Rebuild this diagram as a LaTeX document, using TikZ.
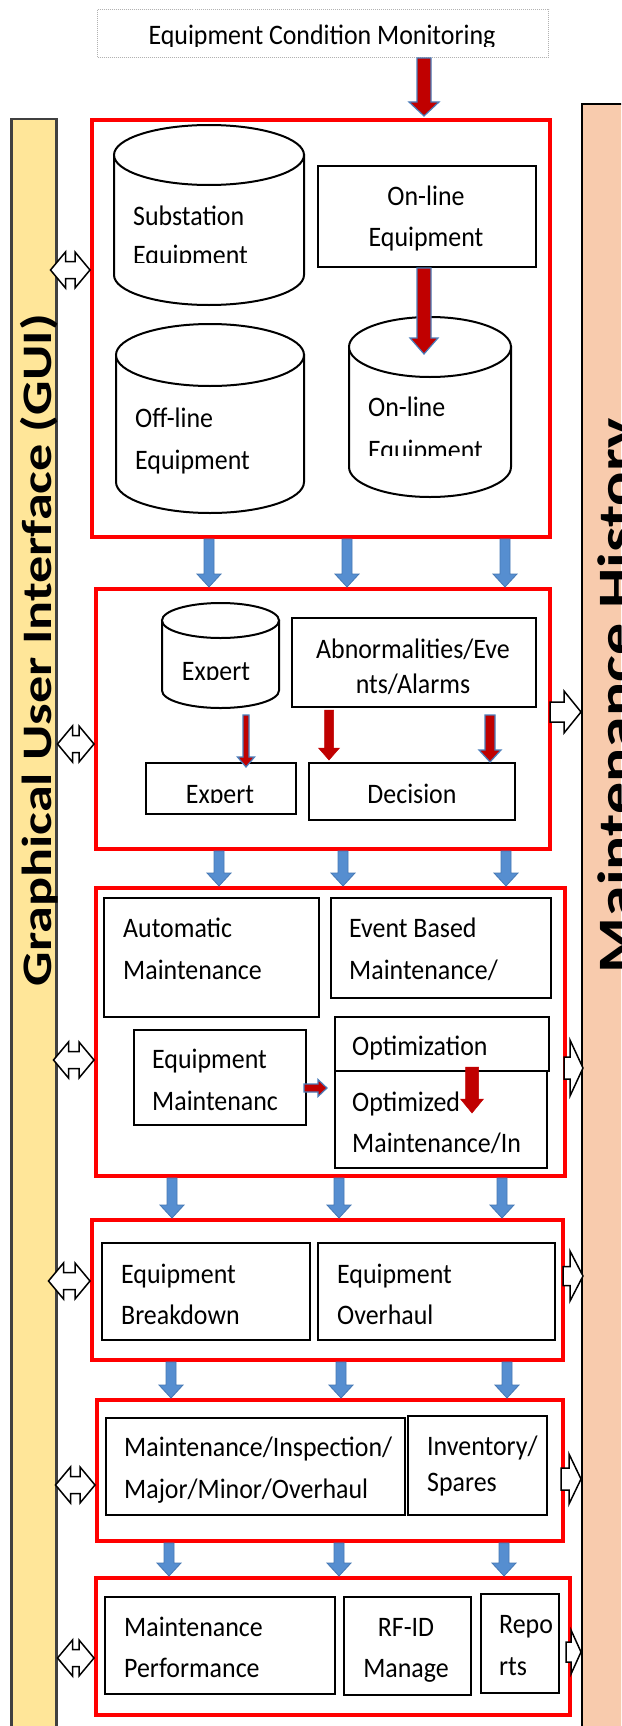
\documentclass[tikz,border=0pt]{standalone}
\usepackage{fontspec}
\setmainfont{Carlito}
\usetikzlibrary{calc}

\definecolor{guiyellow}{RGB}{255,230,153}
\definecolor{histpeach}{RGB}{248,203,173}
\definecolor{arrowred}{RGB}{192,0,0}
\definecolor{arrowedge}{RGB}{74,126,187}
\definecolor{flowblue}{RGB}{86,142,208}
\definecolor{flowedge}{RGB}{70,120,180}
\definecolor{bargray}{RGB}{64,64,64}

% slightly tall lettering
\newcommand\vs[1]{\scalebox{1}[1.09]{#1}}
% rectangle node: style, name, x0, y0, x1, y1 (y measured downwards)
\newcommand\mkpanel[6]{\node[#1, minimum width={(#5-#3)*1pt}, minimum height={(#6-#4)*1pt}] (#2) at (#3,-#4) {};}
% storage drum: x0, x1, top, bottom, cap radius
\newcommand\mkdrum[5]{%
  \filldraw[drumline] (#1,-#3-#5) -- (#1,-#4+#5) arc[start angle=180, end angle=360, x radius={(#2-#1)/2}, y radius=#5] -- (#2,-#3-#5) -- cycle;
  \filldraw[drumline] ({(#1+#2)/2},-#3-#5) ellipse[x radius={(#2-#1)/2}, y radius=#5];}
% block arrow downwards: [style]{start}{tip}{shaft half}{head half}{head length}
\newcommand\dnblk[6][]{\path[#1] let \p1=#2, \p2=#3 in
  (\x1-#4,\y1) -- (\x1+#4,\y1) -- (\x1+#4,\y2+#6) -- (\x1+#5,\y2+#6) -- (\x1,\y2)
  -- (\x1-#5,\y2+#6) -- (\x1-#4,\y2+#6) -- cycle;}
% block arrow to the right
\newcommand\rtblk[6][]{\path[#1] let \p1=#2, \p2=#3 in
  (\x1,\y1+#4) -- (\x2-#6,\y1+#4) -- (\x2-#6,\y1+#5) -- (\x2,\y1) -- (\x2-#6,\y1-#5)
  -- (\x2-#6,\y1-#4) -- (\x1,\y1-#4) -- cycle;}
% block arrow pointing both ways
\newcommand\lrblk[6][]{\path[#1] let \p1=#2, \p2=#3 in
  (\x1,\y1) -- (\x1+#6,\y1+#5) -- (\x1+#6,\y1+#4) -- (\x2-#6,\y1+#4) -- (\x2-#6,\y1+#5)
  -- (\x2,\y1) -- (\x2-#6,\y1-#5) -- (\x2-#6,\y1-#4) -- (\x1+#6,\y1-#4) -- (\x1+#6,\y1-#5) -- cycle;}

\begin{document}
\begin{tikzpicture}[x=1pt,y=1pt,
  redbox/.style={draw=red, line width=4pt, anchor=north west, inner sep=0pt},
  blk/.style={draw=black, line width=2pt, fill=white, anchor=north west, inner sep=0pt},
  drumline/.style={draw=black, line width=2pt, fill=white},
  lt/.style={anchor=base west, inner sep=0pt, font=\fontsize{25.9}{31}\selectfont},
  ct/.style={anchor=base, inner sep=0pt, font=\fontsize{25.9}{31}\selectfont},
  redarr/.style={fill=arrowred, draw=arrowedge, line width=1.2pt},
  redsolid/.style={fill=arrowred, draw=arrowred, line width=0.5pt},
  bluearr/.style={fill=flowblue, draw=flowedge, line width=0.8pt},
  hollow/.style={fill=white, draw=black, line width=1.5pt}]

\useasboundingbox (0,0) rectangle (621,-1726);
\clip (0,0) rectangle (621,-1726);
\fill[white] (0,0) rectangle (621,-1726);

% side bars
\node[draw=bargray, line width=2.5pt, fill=guiyellow, anchor=north west, inner sep=0pt,
  minimum width=45pt, minimum height=1660pt] (gui) at (10,-118) {};
\node[draw=black, line width=2pt, fill=histpeach, anchor=north west, inner sep=0pt,
  minimum width=80pt, minimum height=1680pt] (mh) at (581,-103) {};
\node[rotate=90, anchor=base, inner sep=0pt] (guitext) at (51,-650)
  {\scalebox{1.29}[1]{\fontsize{42}{42}\selectfont\bfseries Graphical User Interface (GUI)}};
\node[rotate=90, anchor=base, inner sep=0pt] (mhtext) at (633,-696)
  {\scalebox{1.255}[1]{\fontsize{51}{51}\selectfont\bfseries Maintenance History}};

% top source box
\node[draw=gray!60, dash pattern=on 1pt off 1pt, line width=1pt, anchor=north west, inner sep=0pt,
  minimum width=451pt, minimum height=48pt] (topbox) at (97,-9) {};
\begin{scope}
  \clip (97,-9) rectangle (548,-47);
  \node[ct] (toptext) at (322,-45) {\vs{Equipment Condition Monitoring}};
\end{scope}

% red stage frames
\mkpanel{redbox}{b1}{90}{118}{548}{535}
\mkpanel{redbox}{b2}{94}{587}{548}{847}
\mkpanel{redbox}{b3}{94}{886}{563}{1174}
\mkpanel{redbox}{b4}{90}{1218}{561}{1358}
\mkpanel{redbox}{b5}{95}{1398}{561}{1539}
\mkpanel{redbox}{b6}{94}{1576}{568}{1713}

% links to the GUI bar
\lrblk[hollow]{($(gui.east |- 0,-270)+(-7,0)$)}{(b1.west |- 0,-270)}{8.5pt}{18pt}{15pt}
\lrblk[hollow]{(gui.east |- 0,-744)}{(b2.west |- 0,-744)}{8.5pt}{18pt}{15pt}
\lrblk[hollow]{($(gui.east |- 0,-1060)+(-4,0)$)}{(b3.west |- 0,-1060)}{8.5pt}{18pt}{15pt}
\lrblk[hollow]{($(gui.east |- 0,-1281)+(-9,0)$)}{(b4.west |- 0,-1281)}{8.5pt}{18pt}{15pt}
\lrblk[hollow]{($(gui.east |- 0,-1485)+(-2,0)$)}{(b5.west |- 0,-1485)}{8.5pt}{18pt}{15pt}
\lrblk[hollow]{(gui.east |- 0,-1658)}{(b6.west |- 0,-1658)}{8.5pt}{18pt}{15pt}

% links to the maintenance history bar
\rtblk[hollow]{($(b2.east |- 0,-712)+(-2,0)$)}{(mh.west |- 0,-712)}{10pt}{21pt}{17pt}
\rtblk[hollow]{($(b3.east |- 0,-1068)+(-3,0)$)}{($(mh.west |- 0,-1068)+(2,0)$)}{11pt}{28pt}{13pt}
\rtblk[hollow]{($(b4.east |- 0,-1276)+(-2,0)$)}{($(mh.west |- 0,-1276)+(2,0)$)}{9.5pt}{25pt}{13pt}
\rtblk[hollow]{($(b5.east |- 0,-1479)+(-4,0)$)}{(mh.west |- 0,-1479)}{11pt}{25pt}{12pt}
\rtblk[hollow]{($(b6.east |- 0,-1652)+(-6,0)$)}{(mh.west |- 0,-1652)}{10pt}{22pt}{10pt}

% stage 1: equipment data
\mkdrum{114}{304}{125}{305}{30}
\mkdrum{116}{304}{324}{513}{31}
\mkdrum{349}{511}{317}{497}{30}
\mkpanel{blk}{onl}{317}{165}{535}{266}
\node[lt] (subA) at (133,-225) {\vs{Substation}};
\begin{scope}
  \clip (120,-235) rectangle (300,-262);
  \node[lt] (subB) at (133,-264) {\vs{Equipment}};
\end{scope}
\node[ct] (onlA) at (426,-205) {\vs{On-line}};
\node[ct] (onlB) at (426,-246) {\vs{Equipment}};
\node[lt] (offA) at (135,-427) {\vs{Off-line}};
\node[lt] (offB) at (135,-469) {\vs{Equipment}};
\node[lt] (ondA) at (368,-416) {\vs{On-line}};
\begin{scope}
  \clip (355,-430) rectangle (505,-455);
  \node[lt] (ondB) at (368,-459) {\vs{Equipment}};
\end{scope}
\coordinate (ondtip) at (424,-354);

% stage 2: expert system and decisions
\mkdrum{162}{279}{603}{708}{17.5}
\coordinate (expbot) at (246,-715);
\mkpanel{blk}{abn}{291}{617}{535}{706}
\mkpanel{blk}{exr}{145}{762}{295}{813}
\mkpanel{blk}{dec}{308}{762}{514}{819}
\begin{scope}
  \clip (165,-640) rectangle (275,-679);
  \node[ct] (expA) at (216,-680) {\vs{Expert}};
\end{scope}
\node[ct] (abnA) at (413,-658) {\vs{Abnormalities/Eve}};
\node[ct] (abnB) at (413,-693) {\vs{nts/Alarms}};
\begin{scope}
  \clip (147,-764) rectangle (293,-802);
  \node[ct] (exrA) at (220,-803) {\vs{Expert}};
\end{scope}
\node[ct] (decA) at (412,-803) {\vs{Decision}};

% stage 3: maintenance strategies
\mkpanel{blk}{aut}{103}{897}{318}{1016}
\mkpanel{blk}{evt}{330}{897}{550}{997}
\mkpanel{blk}{eqm}{133}{1029}{305}{1124}
\mkpanel{blk}{opt}{334}{1016}{548}{1070}
\mkpanel{blk}{opd}{334}{1070}{546}{1167}
\node[lt] (autA) at (123,-937) {\vs{Automatic}};
\node[lt] (autB) at (123,-979) {\vs{Maintenance}};
\node[lt] (evtA) at (349,-937) {\vs{Event Based}};
\node[lt] (evtB) at (349,-979) {\vs{Maintenance/}};
\node[lt] (eqmA) at (152,-1068) {\vs{Equipment}};
\node[lt] (eqmB) at (152,-1110) {\vs{Maintenanc}};
\node[lt] (optA) at (352,-1055) {\vs{Optimization}};
\node[lt] (opdA) at (352,-1111) {\vs{Optimized}};
\node[lt] (opdB) at (352,-1152) {\vs{Maintenance/In}};

% stage 4
\mkpanel{blk}{brk}{101}{1242}{309}{1339}
\mkpanel{blk}{ovh}{317}{1242}{554}{1339}
\node[lt] (brkA) at (121,-1283) {\vs{Equipment}};
\node[lt] (brkB) at (121,-1324) {\vs{Breakdown}};
\node[lt] (ovhA) at (337,-1283) {\vs{Equipment}};
\node[lt] (ovhB) at (337,-1324) {\vs{Overhaul}};

% stage 5
\mkpanel{blk}{insp}{105}{1417}{404}{1514}
\mkpanel{blk}{inv}{407}{1415}{546}{1514}
\node[lt] (inspA) at (124,-1456) {\vs{Maintenance/Inspection/}};
\node[lt] (inspB) at (124,-1498) {\vs{Major/Minor/Overhaul}};
\node[lt] (invA) at (427,-1455) {\vs{Inventory/}};
\node[lt] (invB) at (427,-1491) {\vs{Spares}};

% stage 6
\mkpanel{blk}{perf}{104}{1596}{334}{1693}
\mkpanel{blk}{rfid}{343}{1596}{470}{1694}
\mkpanel{blk}{rep}{480}{1593}{558}{1692}
\node[lt] (perfA) at (124,-1636) {\vs{Maintenance}};
\node[lt] (perfB) at (124,-1677) {\vs{Performance}};
\node[ct] (rfidA) at (406,-1636) {\vs{RF-ID}};
\node[ct] (rfidB) at (406,-1677) {\vs{Manage}};
\node[lt] (repA) at (499,-1633) {\vs{Repo}};
\node[lt] (repB) at (499,-1675) {\vs{rts}};

% red data arrows
\dnblk[redarr]{(topbox.south -| 424,0)}{($(b1.north -| 424,0)+(0,2)$)}{7pt}{15pt}{14pt}
\dnblk[redarr]{(onl.south -| 424,0)}{(ondtip)}{7pt}{14pt}{16pt}
\dnblk[redarr]{(expbot)}{($(exr.north -| 246,0)+(0,-5)$)}{3pt}{8.5pt}{10pt}
\dnblk[redsolid]{($(abn.south -| 329,0)+(0,-2)$)}{($(dec.north -| 329,0)+(0,2)$)}{4.5pt}{10.5pt}{12pt}
\dnblk[redarr]{($(abn.south -| 490,0)+(0,-7)$)}{(dec.north -| 490,0)}{5pt}{11pt}{12pt}
\rtblk[redarr]{($(eqm.east |- 0,-1088)+(-3,0)$)}{($(opd.west |- 0,-1088)+(-7,0)$)}{4pt}{8.5pt}{9pt}
\dnblk[redsolid]{($(opt.south -| 472,0)+(0,5)$)}{($(opt.south -| 472,0)+(0,-41)$)}{6.5pt}{11.5pt}{14pt}

% blue flow arrows between stages
\foreach \xa in {209,347,505}
  {\dnblk[bluearr]{(b1.south -| \xa,0)}{(b2.north -| \xa,0)}{5pt}{12pt}{13pt}}
\foreach \xa in {219,343,506}
  {\dnblk[bluearr]{(b2.south -| \xa,0)}{(b3.north -| \xa,0)}{5pt}{12pt}{13pt}}
\foreach \xa in {172,339,502}
  {\dnblk[bluearr]{(b3.south -| \xa,0)}{(b4.north -| \xa,0)}{5pt}{12pt}{13pt}}
\foreach \xa in {171,341,507}
  {\dnblk[bluearr]{(b4.south -| \xa,0)}{(b5.north -| \xa,0)}{5pt}{12pt}{13pt}}
\foreach \xa in {169,339,504}
  {\dnblk[bluearr]{(b5.south -| \xa,0)}{(b6.north -| \xa,0)}{5pt}{12pt}{13pt}}
\end{tikzpicture}
\end{document}
